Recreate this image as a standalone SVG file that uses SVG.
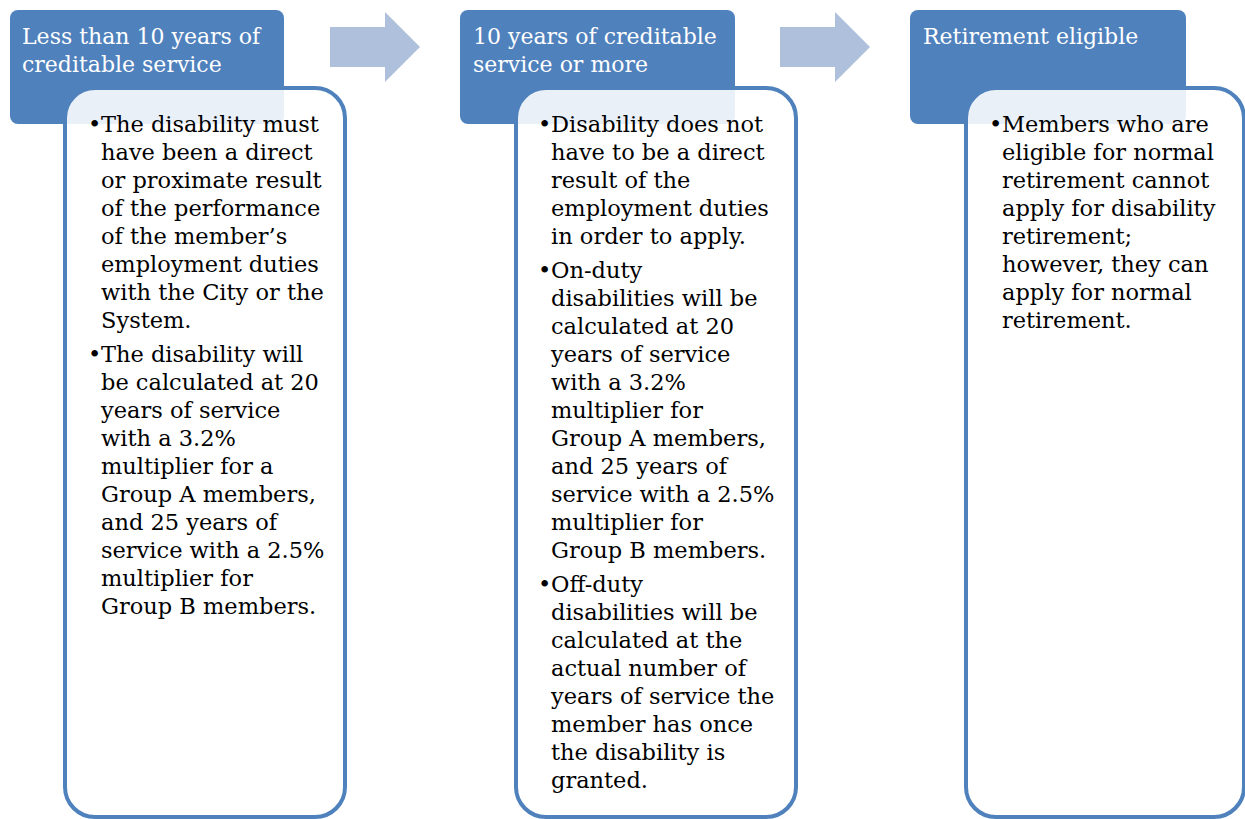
<svg xmlns="http://www.w3.org/2000/svg" width="1245" height="819" viewBox="0 0 1245 819">
<style>
.hdr{fill:#4F81BD}
.body{fill:#FFFFFF;fill-opacity:0.88;stroke:#4F81BD;stroke-width:4}
.arrow{fill:#AFC0DC}
.ht{font-family:"DejaVu Serif","Liberation Serif",serif;font-size:22px;fill:#FFFFFF}
.bt{font-family:"DejaVu Serif","Liberation Serif",serif;font-size:22.5px;fill:#000000}
</style>
<rect width="1245" height="819" fill="#FFFFFF"/>
<g id="connectors">
<path class="arrow" d="M330,27 H385 V12 L420,47 L385,82 V67 H330 Z"/>
<path class="arrow" d="M780,27 H835 V12 L870,47 L835,82 V67 H780 Z"/>
</g>
<g id="node1">
<rect class="hdr" x="10" y="10" width="274" height="114" rx="8"/>
<text class="ht" x="22" y="44">Less than 10 years of</text>
<text class="ht" x="22" y="72">creditable service</text>
<rect class="body" x="65" y="88" width="280" height="729" rx="30"/>
<text class="bt"><tspan x="88" y="132">•</tspan><tspan x="101" y="132">The disability must</tspan><tspan x="101" y="160">have been a direct</tspan><tspan x="101" y="188">or proximate result</tspan><tspan x="101" y="216">of the performance</tspan><tspan x="101" y="244">of the member’s</tspan><tspan x="101" y="272">employment duties</tspan><tspan x="101" y="300">with the City or the</tspan><tspan x="101" y="328">System.</tspan><tspan x="88" y="362">•</tspan><tspan x="101" y="362">The disability will</tspan><tspan x="101" y="390">be calculated at 20</tspan><tspan x="101" y="418">years of service</tspan><tspan x="101" y="446">with a 3.2%</tspan><tspan x="101" y="474">multiplier for a</tspan><tspan x="101" y="502">Group A members,</tspan><tspan x="101" y="530">and 25 years of</tspan><tspan x="101" y="558">service with a 2.5%</tspan><tspan x="101" y="586">multiplier for</tspan><tspan x="101" y="614">Group B members.</tspan></text>
</g>
<g id="node2">
<rect class="hdr" x="460" y="10" width="275" height="114" rx="8"/>
<text class="ht" x="473" y="44">10 years of creditable</text>
<text class="ht" x="473" y="72">service or more</text>
<rect class="body" x="516" y="88" width="280" height="729" rx="30"/>
<text class="bt"><tspan x="538" y="132">•</tspan><tspan x="551" y="132">Disability does not</tspan><tspan x="551" y="160">have to be a direct</tspan><tspan x="551" y="188">result of the</tspan><tspan x="551" y="216">employment duties</tspan><tspan x="551" y="244">in order to apply.</tspan><tspan x="538" y="278">•</tspan><tspan x="551" y="278">On-duty</tspan><tspan x="551" y="306">disabilities will be</tspan><tspan x="551" y="334">calculated at 20</tspan><tspan x="551" y="362">years of service</tspan><tspan x="551" y="390">with a 3.2%</tspan><tspan x="551" y="418">multiplier for</tspan><tspan x="551" y="446">Group A members,</tspan><tspan x="551" y="474">and 25 years of</tspan><tspan x="551" y="502">service with a 2.5%</tspan><tspan x="551" y="530">multiplier for</tspan><tspan x="551" y="558">Group B members.</tspan><tspan x="538" y="592">•</tspan><tspan x="551" y="592">Off-duty</tspan><tspan x="551" y="620">disabilities will be</tspan><tspan x="551" y="648">calculated at the</tspan><tspan x="551" y="676">actual number of</tspan><tspan x="551" y="704">years of service the</tspan><tspan x="551" y="732">member has once</tspan><tspan x="551" y="760">the disability is</tspan><tspan x="551" y="788">granted.</tspan></text>
</g>
<g id="node3">
<rect class="hdr" x="910" y="10" width="276" height="114" rx="8"/>
<text class="ht" x="923" y="44">Retirement eligible</text>
<rect class="body" x="966" y="88" width="278" height="729" rx="30"/>
<text class="bt"><tspan x="989" y="132">•</tspan><tspan x="1002" y="132">Members who are</tspan><tspan x="1002" y="160">eligible for normal</tspan><tspan x="1002" y="188">retirement cannot</tspan><tspan x="1002" y="216">apply for disability</tspan><tspan x="1002" y="244">retirement;</tspan><tspan x="1002" y="272">however, they can</tspan><tspan x="1002" y="300">apply for normal</tspan><tspan x="1002" y="328">retirement.</tspan></text>
</g>
</svg>
